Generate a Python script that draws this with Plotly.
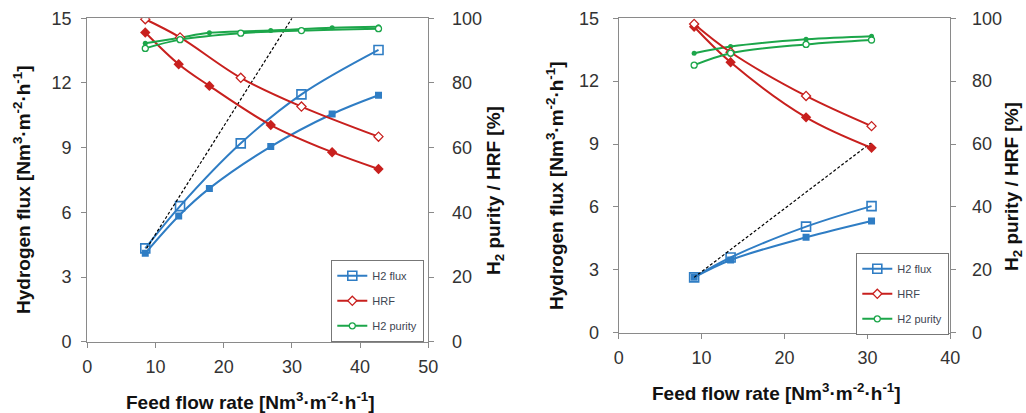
import plotly.graph_objects as go

# ---------------- data: left panel ----------------
feed_a_filled = [8.5, 13.4, 17.9, 26.9, 35.9, 42.7]
feed_a_open = [8.5, 13.6, 22.5, 31.4, 42.7]
flux_a_filled = [4.1, 5.83, 7.11, 9.05, 10.56, 11.43]
flux_a_open = [4.33, 6.29, 9.2, 11.47, 13.53]
hrf_a_filled = [95.6, 85.8, 79.1, 67.0, 58.6, 53.4]
hrf_a_open = [99.7, 94.1, 81.6, 72.7, 63.4]
pur_a_filled = [92.3, 93.9, 95.5, 96.2, 97.1, 97.4]
pur_a_open = [90.7, 93.4, 95.4, 96.2, 96.8]
ideal_a_x = [8.7, 30.0]
ideal_a_y = [4.33, 15.0]

# ---------------- data: right panel ----------------
feed_b = [9.1, 13.5, 22.6, 30.5]
flux_b_filled = [2.64, 3.47, 4.55, 5.33]
flux_b_open = [2.64, 3.59, 5.06, 6.04]
hrf_b_filled = [97.3, 86.0, 68.5, 58.8]
hrf_b_open = [98.2, 89.2, 75.3, 65.7]
pur_b_filled = [88.9, 91.0, 93.3, 94.3]
pur_b_open = [85.1, 88.9, 91.7, 93.1]
ideal_b_x = [9.1, 30.4]
ideal_b_y = [2.64, 9.05]

BLUE = "#2f7dc4"
RED = "#c8201e"
GREEN = "#1ca64a"
W, H = 1026, 413

fig = go.Figure()


def add_panel(xa, ya_l, ya_r, leg, fx_f, fx_o, flf, flo, hf, ho, pf, po, dx, dy):
    xs = "x" if xa == 1 else f"x{xa}"
    yl = "y" if ya_l == 1 else f"y{ya_l}"
    yr = f"y{ya_r}"
    ln = dict(width=2, shape="spline", smoothing=1)
    # filled series
    fig.add_trace(go.Scatter(x=fx_f, y=flf, xaxis=xs, yaxis=yl, mode="lines+markers",
                             line=dict(color=BLUE, **ln),
                             marker=dict(symbol="square", size=7, color=BLUE),
                             showlegend=False))
    fig.add_trace(go.Scatter(x=fx_f, y=hf, xaxis=xs, yaxis=yr, mode="lines+markers",
                             line=dict(color=RED, **ln),
                             marker=dict(symbol="diamond", size=8, color=RED),
                             showlegend=False))
    fig.add_trace(go.Scatter(x=fx_f, y=pf, xaxis=xs, yaxis=yr, mode="lines+markers",
                             line=dict(color=GREEN, **ln),
                             marker=dict(symbol="circle", size=5, color=GREEN),
                             showlegend=False))
    # open series (legend)
    fig.add_trace(go.Scatter(x=fx_o, y=flo, xaxis=xs, yaxis=yl, mode="lines+markers",
                             name="H2 flux", legend=leg, legendgroup=leg + "a",
                             line=dict(color=BLUE, **ln),
                             marker=dict(symbol="square-open", size=9, color=BLUE,
                                         line=dict(width=1.6))))
    fig.add_trace(go.Scatter(x=fx_o, y=ho, xaxis=xs, yaxis=yr, mode="lines+markers",
                             name="HRF", legend=leg, legendgroup=leg + "b",
                             line=dict(color=RED, **ln),
                             marker=dict(symbol="diamond", size=7, color="white",
                                         line=dict(width=1.3, color=RED))))
    fig.add_trace(go.Scatter(x=fx_o, y=po, xaxis=xs, yaxis=yr, mode="lines+markers",
                             name="H2 purity", legend=leg, legendgroup=leg + "c",
                             line=dict(color=GREEN, **ln),
                             marker=dict(symbol="circle", size=6, color="white",
                                         line=dict(width=1.3, color=GREEN))))
    # dashed reference line
    fig.add_trace(go.Scatter(x=dx, y=dy, xaxis=xs, yaxis=yl, mode="lines",
                             line=dict(color="black", width=1.2, dash="3px,2px"),
                             showlegend=False))


add_panel(1, 1, 2, "legend", feed_a_filled, feed_a_open, flux_a_filled, flux_a_open,
          hrf_a_filled, hrf_a_open, pur_a_filled, pur_a_open, ideal_a_x, ideal_a_y)
add_panel(2, 3, 4, "legend2", feed_b, feed_b, flux_b_filled, flux_b_open,
          hrf_b_filled, hrf_b_open, pur_b_filled, pur_b_open, ideal_b_x, ideal_b_y)

AX = "#8a8a8a"
TF = dict(family="Liberation Sans, Arial, sans-serif", size=18, color="#333333")


def xa(dom, rng, anchor):
    return dict(domain=dom, range=rng, dtick=10, tick0=0, anchor=anchor,
                showgrid=False, zeroline=False, showline=True, linecolor=AX,
                linewidth=1.3, ticks="outside", ticklen=5, tickcolor=AX,
                tickfont=TF, ticklabelstandoff=4, mirror=True, automargin=False)


def ya(dom, rng, dt, anchor, side="left", overlay=None, standoff=6):
    d = dict(domain=dom, range=rng, dtick=dt, tick0=0, anchor=anchor, side=side,
             showgrid=False, zeroline=False, showline=True, linecolor=AX,
             linewidth=1.3, ticks="outside", ticklen=5, tickcolor=AX,
             tickfont=TF, ticklabelstandoff=standoff, automargin=False)
    if overlay:
        d["overlaying"] = overlay
    return d


dxA = [87.3 / W, 428.3 / W]
dyA = [(H - 341.7) / H, (H - 18.3) / H]
dxB = [618.7 / W, 950.3 / W]
dyB = [(H - 332.7) / H, (H - 18.3) / H]

LEGF = dict(family="Liberation Sans, Arial, sans-serif", size=11, color="#404552")

fig.update_layout(
    template="none",
    width=W, height=H, autosize=False,
    margin=dict(l=0, r=0, t=0, b=0, pad=0, autoexpand=False),
    paper_bgcolor="white", plot_bgcolor="white",
    xaxis=xa(dxA, [0, 50], "y"),
    yaxis=ya(dyA, [0, 15], 3, "x", standoff=6),
    yaxis2=ya(dyA, [0, 100], 20, "x", side="right", overlay="y", standoff=14),
    xaxis2=xa(dxB, [0, 40], "y3"),
    yaxis3=ya(dyB, [0, 15], 3, "x2", standoff=10),
    yaxis4=ya(dyB, [0, 100], 20, "x2", side="right", overlay="y3", standoff=12),
    legend=dict(x=331 / W, y=(H - 260) / H, xanchor="left", yanchor="top",
                bordercolor="#777777", borderwidth=1.3, bgcolor="white",
                font=LEGF, tracegroupgap=6, itemwidth=30),
    legend2=dict(x=856 / W, y=(H - 253) / H, xanchor="left", yanchor="top",
                 bordercolor="#777777", borderwidth=1.3, bgcolor="white",
                 font=LEGF, tracegroupgap=6, itemwidth=30),
    showlegend=True,
)

BF = dict(family="Liberation Sans, Arial, sans-serif", size=19, color="#111111")
unit = "[Nm<sup>3</sup>·m<sup>-2</sup>·h<sup>-1</sup>]"
titles = [
    (250, 401, 0, f"<b>Feed flow rate {unit}</b>"),
    (22, 190, -90, f"<b>Hydrogen flux {unit}</b>"),
    (495, 191, -90, "<b>H<sub>2</sub> purity / HRF [%]</b>"),
    (776, 392, 0, f"<b>Feed flow rate {unit}</b>"),
    (555, 186, -90, f"<b>Hydrogen flux {unit}</b>"),
    (1013, 187, -90, "<b>H<sub>2</sub> purity / HRF [%]</b>"),
]
for x, y, ang, t in titles:
    fig.add_annotation(x=x / W, y=(H - y) / H, xref="paper", yref="paper",
                       text=t, showarrow=False, textangle=ang, font=BF,
                       xanchor="center", yanchor="middle")

fig.write_html("out.html", config={"displayModeBar": False},
               post_script="document.body.style.margin='0';document.body.style.overflow='hidden';")
